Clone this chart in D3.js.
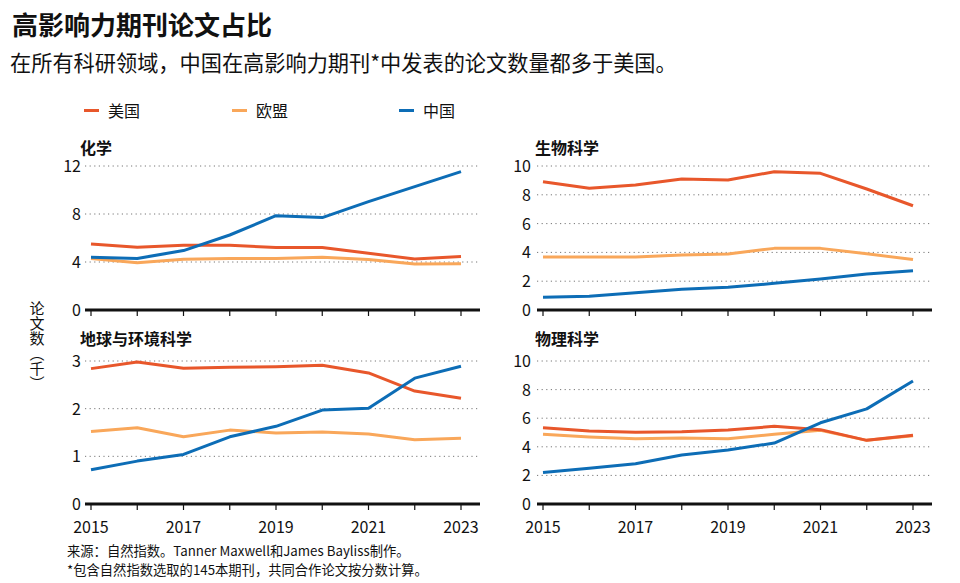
<!DOCTYPE html>
<html><head><meta charset="utf-8">
<script src="https://cdn.jsdelivr.net/npm/d3@7"></script>
<style>
body{margin:0;background:#fff;}
svg{font-family:"Noto Sans CJK SC","Noto Sans",sans-serif;}
</style></head>
<body><svg id="c" width="960" height="583"></svg>
<script>
const years = [2015,2016,2017,2018,2019,2020,2021,2022,2023];
const yearTickLabels = [2015,2017,2019,2021,2023];
const seriesNames = ["美国","欧盟","中国"];
const seriesColors = {"美国":"#e8572b","欧盟":"#f9a75a","中国":"#0d6db6"};

const chemUS   = [5.5,5.22,5.4,5.39,5.2,5.2,4.72,4.25,4.45];
const chemEU   = [4.3,3.94,4.22,4.3,4.3,4.4,4.2,3.83,3.85];
const chemCN   = [4.39,4.3,4.95,6.25,7.86,7.7,9.03,10.28,11.53];

const bioUS    = [8.91,8.45,8.68,9.1,9.03,9.6,9.49,8.4,7.24];
const bioEU    = [3.68,3.68,3.68,3.82,3.89,4.28,4.28,3.9,3.5];
const bioCN    = [0.88,0.95,1.2,1.44,1.58,1.85,2.15,2.5,2.73];

const earthUS  = [2.84,2.98,2.85,2.87,2.88,2.91,2.75,2.37,2.22];
const earthEU  = [1.52,1.6,1.41,1.55,1.49,1.51,1.47,1.35,1.38];
const earthCN  = [0.72,0.9,1.04,1.41,1.63,1.97,2.01,2.64,2.89];

const physUS   = [5.34,5.1,5.01,5.05,5.17,5.43,5.2,4.45,4.8];
const physEU   = [4.87,4.69,4.57,4.62,4.57,4.87,5.15,4.45,4.78];
const physCN   = [2.2,2.5,2.82,3.43,3.78,4.26,5.68,6.65,8.6];

const chemTicks = [0,4,8,12];
const bioTicks  = [0,2,4,6,8,10];
const earthTicks= [0,1,2,3];
const physTicks = [0,2,4,6,8,10];

const panels = [
  {title:"化学", data:{"美国":chemUS,"欧盟":chemEU,"中国":chemCN}, ticks:chemTicks, col:0,row:0, xAxisLabels:false},
  {title:"生物科学", data:{"美国":bioUS,"欧盟":bioEU,"中国":bioCN}, ticks:bioTicks, col:1,row:0, xAxisLabels:false},
  {title:"地球与环境科学", data:{"美国":earthUS,"欧盟":earthEU,"中国":earthCN}, ticks:earthTicks, col:0,row:1, xAxisLabels:true},
  {title:"物理科学", data:{"美国":physUS,"欧盟":physEU,"中国":physCN}, ticks:physTicks, col:1,row:1, xAxisLabels:true}
];

const svg = d3.select("#c");

svg.append("text").attr("x",12).attr("y",35).attr("font-size",26).attr("font-weight","bold").attr("fill","#111").text("高影响力期刊论文占比");
svg.append("text").attr("x",10).attr("y",71).attr("font-size",21.2).attr("fill","#111").text("在所有科研领域，中国在高影响力期刊*中发表的论文数量都多于美国。");

const legendX = [84,232,399];
seriesNames.forEach((s,i)=>{
  svg.append("line").attr("x1",legendX[i]).attr("x2",legendX[i]+15).attr("y1",110.5).attr("y2",110.5)
    .attr("stroke",seriesColors[s]).attr("stroke-width",3);
  svg.append("text").attr("x",legendX[i]+24).attr("y",116.5).attr("font-size",16).attr("fill","#111").text(s);
});

const colX = [{x0:91,x1:461,a0:85,a1:480,lab:81,title:80},{x0:543,x1:913,a0:537,a1:932,lab:531,title:535}];
const rowY = [{y0:310,y1:166,title:154},{y0:504,y1:361,title:345}];

panels.forEach(p=>{
  const c = colX[p.col], r = rowY[p.row];
  const x = d3.scaleLinear().domain([2015,2023]).range([c.x0,c.x1]);
  const y = d3.scaleLinear().domain([0,d3.max(p.ticks)]).range([r.y0,r.y1]);
  const g = svg.append("g");
  g.append("text").attr("x",c.title).attr("y",r.title).attr("font-size",16).attr("font-weight","bold").attr("fill","#111").text(p.title);
  p.ticks.filter(t=>t>0).forEach(t=>{
    g.append("line").attr("x1",c.a0).attr("x2",c.a1).attr("y1",y(t)).attr("y2",y(t))
      .attr("stroke","#777").attr("stroke-width",1).attr("stroke-dasharray","1.2,3.4");
  });
  p.ticks.forEach(t=>{
    g.append("text").attr("x",c.lab).attr("y",y(t)+6).attr("text-anchor","end").attr("font-size",16).attr("fill","#111").text(t);
  });
  const line = d3.line().x((d,i)=>x(years[i])).y(d=>y(d));
  ["欧盟","美国","中国"].forEach(s=>{
    g.append("path").attr("d",line(p.data[s])).attr("fill","none").attr("stroke",seriesColors[s])
      .attr("stroke-width",3).attr("stroke-linejoin","round");
  });
  g.append("line").attr("x1",c.a0).attr("x2",c.a1).attr("y1",r.y0).attr("y2",r.y0).attr("stroke","#111").attr("stroke-width",3);
  years.forEach(yr=>{
    g.append("line").attr("x1",x(yr)).attr("x2",x(yr)).attr("y1",r.y0).attr("y2",r.y0+6).attr("stroke","#111").attr("stroke-width",1.2);
  });
  if(p.xAxisLabels){
    yearTickLabels.forEach(yr=>{
      g.append("text").attr("x",x(yr)).attr("y",r.y0+29).attr("text-anchor","middle").attr("font-size",16).attr("fill","#111").text(yr);
    });
  }
});

svg.append("text").attr("x",37).attr("y",301).attr("font-size",15).attr("fill","#111")
  .style("writing-mode","vertical-rl").text("论文数（千）");

svg.append("text").attr("x",67).attr("y",556).attr("font-size",13.3).attr("fill","#111").text("来源：自然指数。Tanner Maxwell和James Bayliss制作。");
svg.append("text").attr("x",67).attr("y",575).attr("font-size",13.3).attr("fill","#111").text("*包含自然指数选取的145本期刊，共同合作论文按分数计算。");
</script></body></html>
